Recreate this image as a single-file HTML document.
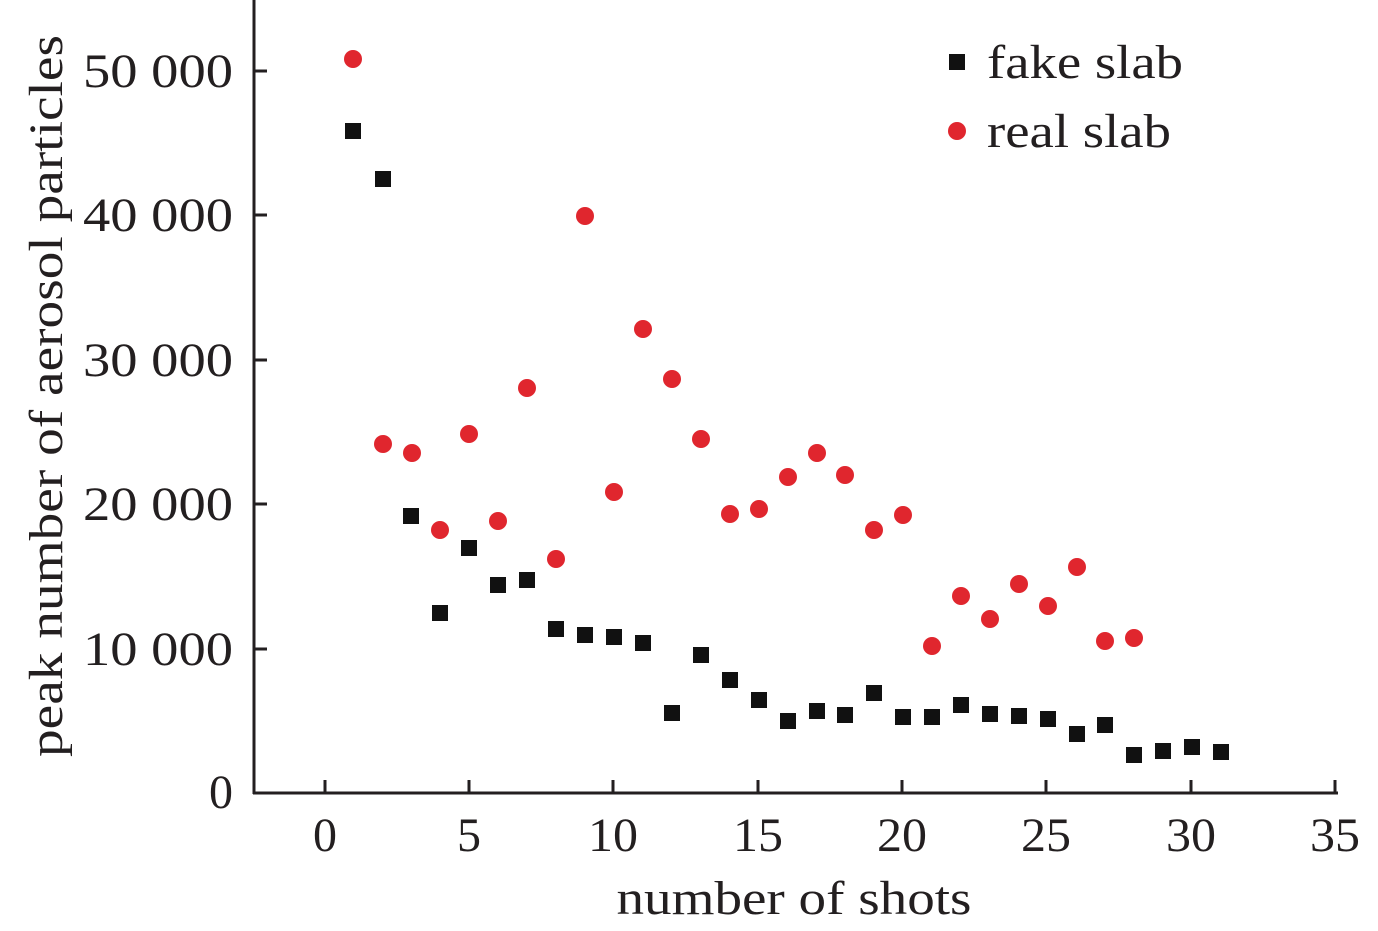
<!DOCTYPE html>
<html><head><style>body{margin:0;background:#fff}svg{display:block}</style></head><body>
<svg width="1378" height="931" xmlns="http://www.w3.org/2000/svg" font-family="Liberation Serif, serif" fill="#231f20">
<g stroke="#231f20" stroke-width="3">
<line x1="254" y1="0" x2="254" y2="794"/><line x1="253" y1="793" x2="1338" y2="793"/>
<line x1="325" y1="793" x2="325" y2="780"/><line x1="469" y1="793" x2="469" y2="780"/><line x1="613" y1="793" x2="613" y2="780"/><line x1="758" y1="793" x2="758" y2="780"/><line x1="902" y1="793" x2="902" y2="780"/><line x1="1046" y1="793" x2="1046" y2="780"/><line x1="1191" y1="793" x2="1191" y2="780"/><line x1="1335" y1="793" x2="1335" y2="780"/>
<line x1="254" y1="649" x2="267" y2="649"/><line x1="254" y1="504" x2="267" y2="504"/><line x1="254" y1="360" x2="267" y2="360"/><line x1="254" y1="215" x2="267" y2="215"/><line x1="254" y1="71" x2="267" y2="71"/>
</g>
<g font-size="48" text-anchor="end" lengthAdjust="spacingAndGlyphs">
<text x="233" y="808">0</text>
<text x="233" y="665" textLength="150" lengthAdjust="spacingAndGlyphs">10 000</text>
<text x="233" y="520" textLength="150" lengthAdjust="spacingAndGlyphs">20 000</text>
<text x="233" y="376" textLength="150" lengthAdjust="spacingAndGlyphs">30 000</text>
<text x="233" y="231" textLength="150" lengthAdjust="spacingAndGlyphs">40 000</text>
<text x="233" y="87" textLength="150" lengthAdjust="spacingAndGlyphs">50 000</text>
</g>
<g font-size="48" text-anchor="middle">
<text x="325" y="851">0</text><text x="469" y="851">5</text>
<text x="613" y="851" textLength="50" lengthAdjust="spacingAndGlyphs">10</text>
<text x="758" y="851" textLength="50" lengthAdjust="spacingAndGlyphs">15</text>
<text x="902" y="851" textLength="50" lengthAdjust="spacingAndGlyphs">20</text>
<text x="1046" y="851" textLength="50" lengthAdjust="spacingAndGlyphs">25</text>
<text x="1191" y="851" textLength="50" lengthAdjust="spacingAndGlyphs">30</text>
<text x="1335" y="851" textLength="50" lengthAdjust="spacingAndGlyphs">35</text>
<text x="794" y="914" textLength="355" lengthAdjust="spacingAndGlyphs">number of shots</text>
<text transform="translate(62,396) rotate(-90)" textLength="722" lengthAdjust="spacingAndGlyphs">peak number of aerosol particles</text>
</g>
<g font-size="48"><text x="987" y="78" textLength="196" lengthAdjust="spacingAndGlyphs">fake slab</text><text x="987" y="147" textLength="184" lengthAdjust="spacingAndGlyphs">real slab</text></g>
<rect x="949" y="54" width="16" height="16" fill="#111"/>
<circle cx="957" cy="131" r="9" fill="#e0262e"/>
<g fill="#111" id="f"></g>
<g fill="#e0262e" id="r"></g>
<script>
var f=[[353,131],[383,179],[411,516],[440,613],[469,548],[498,585],[527,580],[556,629],[585,635],[614,637],[643,643],[672,713],[701,655],[730,680],[759,700],[788,721],[817,711],[845,715],[874,693],[903,717],[932,717],[961,705],[990,714],[1019,716],[1048,719],[1077,734],[1105,725],[1134,755],[1163,751],[1192,747],[1221,752]];
var r=[[353,59],[383,444],[412,453],[440,530],[469,434],[498,521],[527,388],[556,559],[585,216],[614,492],[643,329],[672,379],[701,439],[730,514],[759,509],[788,477],[817,453],[845,475],[874,530],[903,515],[932,646],[961,596],[990,619],[1019,584],[1048,606],[1077,567],[1105,641],[1134,638]];
var ns="http://www.w3.org/2000/svg",g=document.getElementById('f'),h=document.getElementById('r');
f.forEach(function(p){var e=document.createElementNS(ns,'rect');e.setAttribute('x',p[0]-8);e.setAttribute('y',p[1]-8);e.setAttribute('width',16);e.setAttribute('height',16);g.appendChild(e);});
r.forEach(function(p){var e=document.createElementNS(ns,'circle');e.setAttribute('cx',p[0]);e.setAttribute('cy',p[1]);e.setAttribute('r',9);h.appendChild(e);});
</script>
</svg>
</body></html>
